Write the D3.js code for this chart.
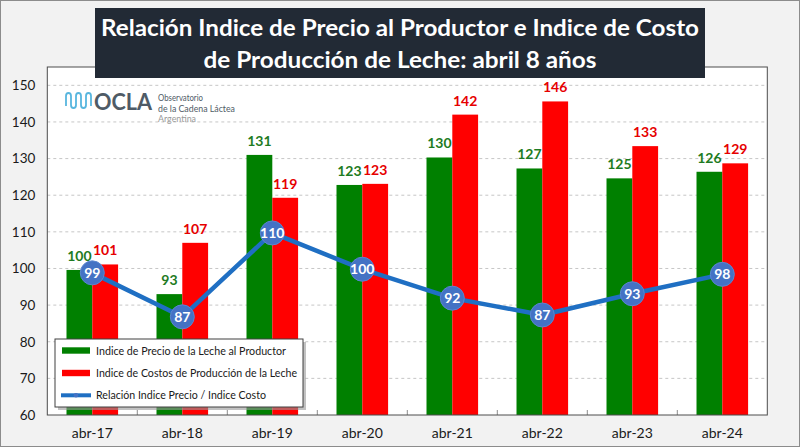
<!DOCTYPE html>
<html><head><meta charset="utf-8">
<script src="https://cdn.jsdelivr.net/npm/d3@7"></script>
<style>html,body{margin:0;padding:0;background:#f2f2f2;}svg{display:block;}</style>
</head><body>
<svg id="chart" width="800" height="447"></svg>
<script>
const categories = ["abr-17","abr-18","abr-19","abr-20","abr-21","abr-22","abr-23","abr-24"];
const precioValues = [99.6, 93.0, 131.0, 122.8, 130.3, 127.3, 124.6, 126.4];
const precioLabels = [100, 93, 131, 123, 130, 127, 125, 126];
const costoValues = [101.1, 107.0, 119.3, 123.1, 142.0, 145.6, 133.4, 128.7];
const costoLabels = [101, 107, 119, 123, 142, 146, 133, 129];
const relacionValues = [98.8, 86.8, 109.7, 99.8, 91.9, 87.3, 93.1, 98.4];
const relacionLabels = [99, 87, 110, 100, 92, 87, 93, 98];
const yTicks = [60, 70, 80, 90, 100, 110, 120, 130, 140, 150];
const titleLines = ["Relación Indice de Precio al Productor e Indice de Costo", "de Producción de Leche: abril 8 años"];
const legendLabels = ["Indice de Precio de la Leche al Productor", "Indice de Costos de Producción de la Leche", "Relación Indice Precio / Indice Costo"];

const svg = d3.select("#chart");
const W = 800, H = 447;
const plot = {l: 47.3, r: 767.3, t: 67, b: 415};
const FONT = "Lato, 'Open Sans', sans-serif";
const GREEN = "#008000", RED = "#ff0000", LINE = "#1f6fc3", DOT = "#4472c4";

// outer background
svg.append("rect").attr("x",0.5).attr("y",0.5).attr("width",W-1).attr("height",H-1)
  .attr("fill","#f2f2f2").attr("stroke","#8c8c8c");

const x0 = d3.scaleBand().domain(categories).range([plot.l, plot.r]).paddingInner(0.4267).paddingOuter(0.2133);
const x1 = d3.scaleBand().domain(["p","c"]).range([0, x0.bandwidth()]);
const y = d3.scaleLinear().domain([60,155]).range([plot.b, plot.t]);

// plot area
svg.append("rect").attr("x",plot.l).attr("y",plot.t).attr("width",plot.r-plot.l).attr("height",plot.b-plot.t)
  .attr("fill","#ffffff");

// gridlines
svg.append("g").selectAll("line").data(yTicks.filter(d=>d>60)).join("line")
  .attr("x1",plot.l).attr("x2",plot.r).attr("y1",d=>y(d)).attr("y2",d=>y(d))
  .attr("stroke","#c6c6c6").attr("stroke-dasharray","3,3").attr("stroke-width",1);

// y axis labels
const yAxis = d3.axisLeft(y).tickValues(yTicks).tickSize(0).tickPadding(12);
const gy = svg.append("g").attr("transform",`translate(${plot.l},0)`).call(yAxis);
gy.select(".domain").remove();
gy.selectAll("text").attr("font-family",FONT).attr("font-size",13.5).attr("fill","#1a1a1a");

// x axis
const xAxis = d3.axisBottom(x0).tickSize(0).tickPadding(13);
const gx = svg.append("g").attr("transform",`translate(0,${plot.b})`).call(xAxis);
gx.select(".domain").remove();
gx.selectAll("text").attr("font-family",FONT).attr("font-size",14).attr("fill","#1a1a1a");
// small ticks between categories
svg.append("g").selectAll("line").data(categories.slice(1)).join("line")
  .attr("x1",d=>x0(d)-x0.step()*x0.paddingInner()/2).attr("x2",d=>x0(d)-x0.step()*x0.paddingInner()/2)
  .attr("y1",plot.b).attr("y2",plot.b-5).attr("stroke","#8c8c8c");

// bars
const bars = svg.append("g");
bars.selectAll(".bp").data(categories).join("rect")
  .attr("x",d=>x0(d)+x1("p")).attr("width",x1.bandwidth())
  .attr("y",(d,i)=>y(precioValues[i])).attr("height",(d,i)=>y(60)-y(precioValues[i]))
  .attr("fill",GREEN);
bars.selectAll(".bc").data(categories).join("rect")
  .attr("x",d=>x0(d)+x1("c")).attr("width",x1.bandwidth())
  .attr("y",(d,i)=>y(costoValues[i])).attr("height",(d,i)=>y(60)-y(costoValues[i]))
  .attr("fill",RED);

// bar labels
const labels = svg.append("g").attr("font-family",FONT).attr("font-weight","bold").attr("font-size",14).attr("text-anchor","middle");
labels.selectAll(".lp").data(categories).join("text")
  .attr("x",d=>x0(d)+x1("p")+x1.bandwidth()/2).attr("y",(d,i)=>y(precioValues[i])-9)
  .attr("fill","#1e7b22").text((d,i)=>precioLabels[i]);
labels.selectAll(".lc").data(categories).join("text")
  .attr("x",d=>x0(d)+x1("c")+x1.bandwidth()/2).attr("y",(d,i)=>y(costoValues[i])-9)
  .attr("fill","#e60000").text((d,i)=>costoLabels[i]);

// plot border
svg.append("rect").attr("x",plot.l).attr("y",plot.t).attr("width",plot.r-plot.l).attr("height",plot.b-plot.t)
  .attr("fill","none").attr("stroke","#4d4d4d").attr("stroke-width",1);

// relation line
const cx = d => x0(d)+x0.bandwidth()/2;
const line = d3.line().x((d,i)=>cx(categories[i])).y(d=>y(d));
svg.append("path").datum(relacionValues).attr("d",line).attr("fill","none")
  .attr("stroke",LINE).attr("stroke-width",4.5).attr("stroke-linejoin","round");
const dots = svg.append("g");
dots.selectAll("circle").data(relacionValues).join("circle")
  .attr("cx",(d,i)=>cx(categories[i])).attr("cy",d=>y(d)).attr("r",12)
  .attr("fill",DOT).attr("stroke","#5b86d2").attr("stroke-width",1);
dots.selectAll("text").data(relacionValues).join("text")
  .attr("x",(d,i)=>cx(categories[i])).attr("y",d=>y(d)).attr("dy","0.36em")
  .attr("text-anchor","middle").attr("font-family",FONT).attr("font-weight","bold")
  .attr("font-size",14).attr("fill","#ffffff").text((d,i)=>relacionLabels[i]);

// legend
const lg = svg.append("g");
lg.append("rect").attr("x",58).attr("y",342).attr("width",248).attr("height",68).attr("fill","#9a9a9a").attr("opacity",0.6);
lg.append("rect").attr("x",55).attr("y",339).attr("width",248).attr("height",68)
  .attr("fill","#ffffff").attr("stroke","#404040").attr("stroke-width",1);
const rowsY = [350.5, 373, 395.3];
const lw = [190, 201, 170];
lg.append("rect").attr("x",62).attr("y",rowsY[0]-3.2).attr("width",28).attr("height",6.4).attr("fill",GREEN);
lg.append("rect").attr("x",62).attr("y",rowsY[1]-3.2).attr("width",28).attr("height",6.4).attr("fill",RED);
lg.append("line").attr("x1",61).attr("x2",91).attr("y1",rowsY[2]).attr("y2",rowsY[2]).attr("stroke",LINE).attr("stroke-width",4);
lg.append("circle").attr("cx",76).attr("cy",rowsY[2]).attr("r",2.3).attr("fill",DOT);
lg.selectAll("text").data(legendLabels).join("text")
  .attr("x",96).attr("y",(d,i)=>rowsY[i]+4).attr("font-family",FONT).attr("font-size",12)
  .attr("fill","#1a1a1a").attr("textLength",(d,i)=>lw[i]).attr("lengthAdjust","spacingAndGlyphs").text(d=>d);

// logo
const logo = svg.append("g");
logo.append("path")
  .attr("d","M66,96 L66,106 M66,96 Q66,93 68.5,93 Q71,93 71,96 L71,105 Q71,108 73.5,108 Q76,108 76,105 L76,96 Q76,93 78.5,93 Q81,93 81,96 L81,105 Q81,108 83.5,108 Q86,108 86,105 L86,96 Q86,93 88.5,93 Q91,93 91,96 L91,106")
  .attr("fill","none").attr("stroke","#58b6de").attr("stroke-width",1.8);
logo.append("text").attr("x",94).attr("y",109.5).attr("font-family",FONT).attr("font-weight","bold")
  .attr("font-size",22).attr("fill","#4f5b66").attr("textLength",58).attr("lengthAdjust","spacingAndGlyphs").text("OCLA");
logo.append("text").attr("x",158).attr("y",101).attr("font-family",FONT).attr("font-size",9).attr("fill","#4f5b66")
  .attr("textLength",45).attr("lengthAdjust","spacingAndGlyphs").text("Observatorio");
logo.append("text").attr("x",158).attr("y",111.5).attr("font-family",FONT).attr("font-size",9).attr("fill","#4f5b66")
  .attr("textLength",77).attr("lengthAdjust","spacingAndGlyphs").text("de la Cadena Láctea");
logo.append("text").attr("x",158).attr("y",122).attr("font-family",FONT).attr("font-size",9).attr("fill","#9a9a9a")
  .attr("textLength",38).attr("lengthAdjust","spacingAndGlyphs").text("Argentina");

// title
svg.append("rect").attr("x",95).attr("y",8).attr("width",610).attr("height",70).attr("fill","#222a35");
const tw = [598, 393];
svg.append("g").selectAll("text").data(titleLines).join("text")
  .attr("x",400).attr("y",(d,i)=>i===0?35.5:68).attr("text-anchor","middle")
  .attr("font-family",FONT).attr("font-weight","bold").attr("font-size",22).attr("fill","#ffffff")
  .attr("textLength",(d,i)=>tw[i]).attr("lengthAdjust","spacingAndGlyphs").text(d=>d);
</script>
</body></html>
